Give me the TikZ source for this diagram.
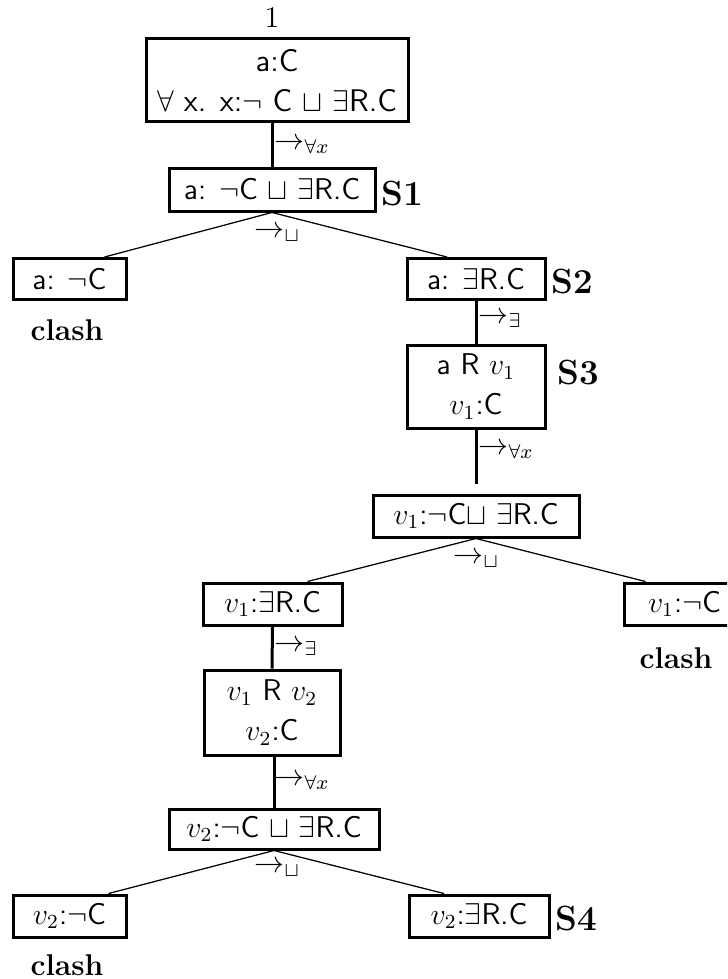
\documentclass[tikz,border=0pt]{standalone}
\begin{document}
\begin{tikzpicture}[x=0.4pt,y=-0.4pt,
  box/.style={draw,line width=1.2pt,font=\fontsize{12}{16}\selectfont\sffamily,inner sep=0pt,align=center},
  lbl/.style={font=\fontsize{14}{16}\selectfont\bfseries,inner sep=0pt},
  clashlbl/.style={font=\fontsize{12}{14}\selectfont\bfseries,inner sep=0pt},
  rule/.style={font=\fontsize{12}{14}\selectfont,inner sep=0pt,anchor=west},
  vline/.style={line width=1.2pt},
  dline/.style={line width=0.5pt}]
\useasboundingbox (0,0) rectangle (727,979);
\clip (0,0) rectangle (727,979);
% top number
\node[font=\fontsize{12}{14}\selectfont,inner sep=0pt] (one) at (272,18) {1};
% boxes
\node[box,font=\fontsize{12.5}{16}\selectfont\sffamily,minimum width=262*0.4pt,minimum height=83*0.4pt] (A) at (277,80.5)
  {a:C\\ $\forall$ x. x:$\neg$ C $\sqcup$ $\exists$R.C};
\node[box,minimum width=206*0.4pt,minimum height=43*0.4pt] (S1) at (272,189.5)
  {a: $\neg$C $\sqcup$ $\exists$R.C};
\node[lbl] (s1l) at (402.5,193) {S1};
\node[box,minimum width=113*0.4pt,minimum height=41*0.4pt] (L1) at (69.5,279) {a: $\neg$C};
\node[clashlbl] (c1) at (67,330) {clash};
\node[box,minimum width=138*0.4pt,minimum height=41*0.4pt] (R1) at (476,279) {a: $\exists$R.C};
\node[lbl] (s2l) at (572,281) {S2};
\node[box,minimum width=138*0.4pt,minimum height=83*0.4pt] (S3) at (476,386.5)
  {a R $v_1$\\ $v_1$:C};
\node[lbl] (s3l) at (578,372) {S3};
\node[box,minimum width=206*0.4pt,minimum height=42*0.4pt] (B) at (476,516)
  {$v_1$:$\neg$C$\sqcup$ $\exists$R.C};
\node[box,minimum width=139*0.4pt,minimum height=42*0.4pt] (L2) at (272.5,604)
  {$v_1$:$\exists$R.C};
\node[box,minimum width=121*0.4pt,minimum height=42*0.4pt] (R2) at (684.5,604)
  {$v_1$:$\neg$C};
\node[clashlbl] (c2) at (676,658) {clash};
\node[box,minimum width=136*0.4pt,minimum height=85*0.4pt] (C) at (272,712.5)
  {$v_1$ R $v_2$\\ $v_2$:C};
\node[box,minimum width=210*0.4pt,minimum height=40*0.4pt] (D) at (274,829)
  {$v_2$:$\neg$C $\sqcup$ $\exists$R.C};
\node[box,minimum width=113*0.4pt,minimum height=42*0.4pt] (L3) at (69.5,916) {$v_2$:$\neg$C};
\node[clashlbl] (c3) at (67,965) {clash};
\node[box,minimum width=140*0.4pt,minimum height=42*0.4pt] (R3) at (479,916) {$v_2$:$\exists$R.C};
\node[lbl] (s4l) at (576,918) {S4};
% vertical connectors
\draw[vline] (S1.north |- A.south) -- (S1.north);
\draw[vline] (R1.south) -- (S3.north);
\draw[vline,shorten >=4pt] (S3.south) -- (B.north);
\draw[vline] (L2.south) -- (C.north);
\draw[vline] (C.south -| D.north) -- (D.north);
% diagonal connectors
\coordinate (l1t) at ([xshift=14pt]L1.north);
\coordinate (r1t) at ([xshift=-11.6pt]R1.north);
\coordinate (l2t) at ([xshift=14pt]L2.north);
\coordinate (r2t) at ([xshift=-15.6pt]R2.north);
\coordinate (l3t) at ([xshift=15.6pt]L3.north);
\coordinate (r3t) at ([xshift=-14pt]R3.north);
\draw[dline] (l1t) -- (S1.south) -- (r1t);
\draw[dline] (l2t) -- (B.south) -- (r2t);
\draw[dline] (l3t) -- (D.south) -- (r3t);
% rule labels
\node[rule] (ra) at (274,146) {$\rightarrow_{\forall x}$};
\node[rule] (rb) at (254,234) {$\rightarrow_{\sqcup}$};
\node[rule] (rc) at (478,320) {$\rightarrow_{\exists}$};
\node[rule] (rd) at (478,451) {$\rightarrow_{\forall x}$};
\node[rule] (re) at (453,560) {$\rightarrow_{\sqcup}$};
\node[rule] (rf) at (274,648) {$\rightarrow_{\exists}$};
\node[rule] (rg) at (274,782) {$\rightarrow_{\forall x}$};
\node[rule] (rh) at (254,869) {$\rightarrow_{\sqcup}$};
\end{tikzpicture}
\end{document}
